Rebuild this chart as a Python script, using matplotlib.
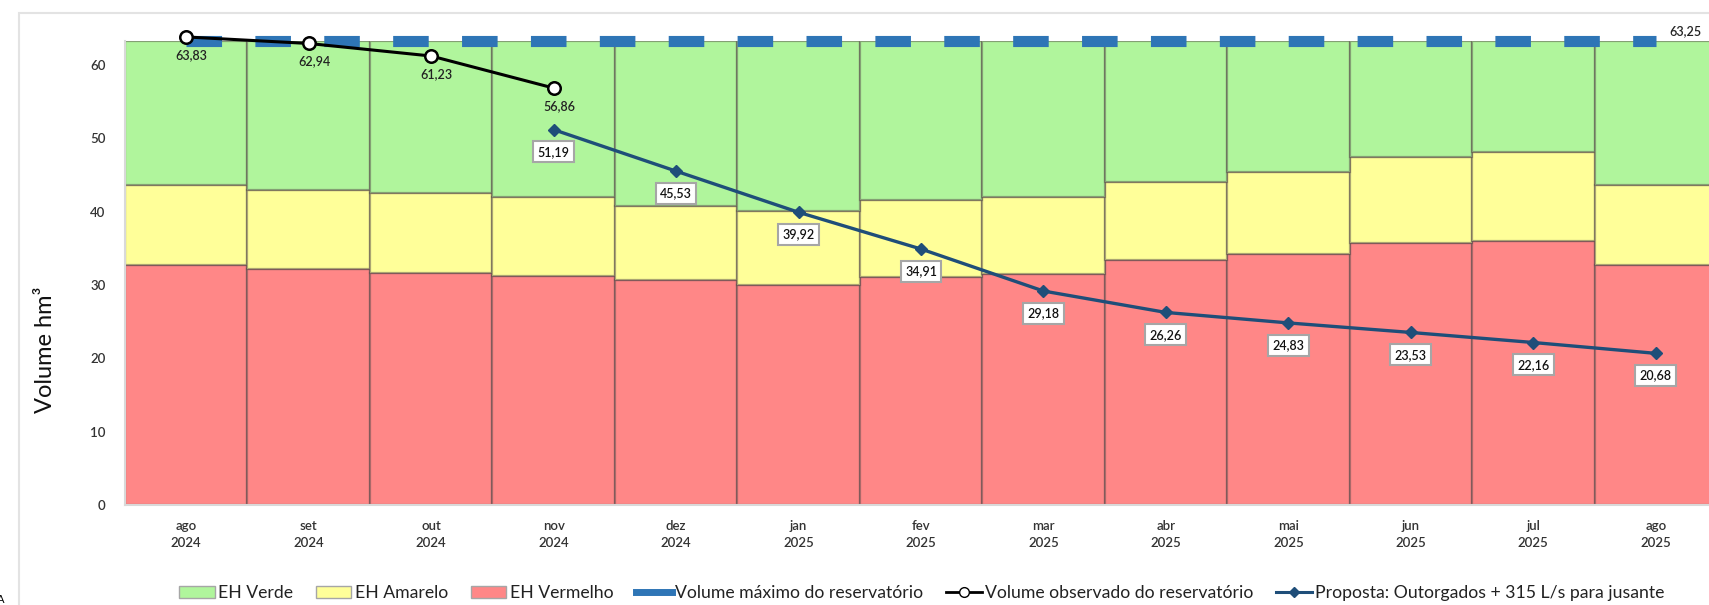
"""
Volume do reservatório: faixas de estado hidrológico e proposta de operação
"""

import numpy as np
import matplotlib.pyplot as plt
from matplotlib.patches import Patch, Rectangle
from matplotlib.lines import Line2D

plt.rcParams['font.family'] = ['Lato', 'DejaVu Sans']

# ── Dados ────────────────────────────────────────────────────────────────────

meses = ['ago', 'set', 'out', 'nov', 'dez', 'jan', 'fev', 'mar', 'abr',
         'mai', 'jun', 'jul', 'ago']
anos = ['2024', '2024', '2024', '2024', '2024', '2025', '2025', '2025',
        '2025', '2025', '2025', '2025', '2025']

vol_max = 63.25

# limite superior de cada faixa (hm³)
limite_vermelho = [32.7, 32.2, 31.7, 31.2, 30.7, 30.0, 31.1, 31.5, 33.4,
                   34.2, 35.7, 36.0, 32.7]
limite_amarelo = [43.6, 42.9, 42.5, 42.0, 40.8, 40.1, 41.6, 42.0, 44.1,
                  45.4, 47.5, 48.2, 43.7]

observado = [63.83, 62.94, 61.23, 56.86]          # ago-nov 2024
proposta = [51.19, 45.53, 39.92, 34.91, 29.18, 26.26, 24.83, 23.53,
            22.16, 20.68]                           # nov 2024 - ago 2025

COR_VERDE = '#B0F59C'
COR_AMARELO = '#FFFF99'
COR_VERMELHO = '#FF8787'
COR_MAX = '#2E75B6'
COR_PROPOSTA = '#1F4E79'
BORDA = (0.35, 0.3, 0.3, 0.5)


def fmt(v):
    return f'{v:.2f}'.replace('.', ',')


# ── Figura ───────────────────────────────────────────────────────────────────

W, H = 1709, 605
fig = plt.figure(figsize=(W / 100, H / 100), dpi=100)
ax = fig.add_axes([125 / W, 100 / H, 1592 / W, 463.8 / H])

x = np.arange(len(meses))
verm = np.array(limite_vermelho)
amar = np.array(limite_amarelo)

ax.bar(x, verm, width=1.0, color=COR_VERMELHO, edgecolor=BORDA, linewidth=1.6)
ax.bar(x, amar - verm, bottom=verm, width=1.0, color=COR_AMARELO,
       edgecolor=BORDA, linewidth=1.6)
ax.bar(x, vol_max - amar, bottom=amar, width=1.0, color=COR_VERDE,
       edgecolor=BORDA, linewidth=1.6)

# Volume máximo
ax.plot(x, [vol_max] * len(x), color=COR_MAX, lw=8,
        linestyle=(0, (3.2, 3.0)), dash_capstyle='butt', zorder=3,
        clip_on=False)
ax.annotate(fmt(vol_max), (x[-1], vol_max), textcoords='offset points',
            xytext=(10, 7), ha='left', va='center', fontsize=9,
            fontweight='semibold', color='#222222', annotation_clip=False)

# Volume observado
xo = x[:len(observado)]
ax.plot(xo, observado, color='black', lw=2.2, marker='o', ms=9,
        mfc='white', mec='black', mew=1.8, zorder=6, clip_on=False)
for xi, v in zip(xo, observado):
    ax.annotate(fmt(v), (xi, v), textcoords='offset points', xytext=(4, -13),
                ha='center', va='center', fontsize=9, fontweight='semibold',
                color='#222222', annotation_clip=False, zorder=7)

# Proposta
xp = x[len(observado) - 1:]
ax.plot(xp, proposta, color=COR_PROPOSTA, lw=2.4, marker='D', ms=6.5,
        zorder=5)
for xi, v in zip(xp, proposta):
    ax.annotate(fmt(v), (xi, v), textcoords='offset points', xytext=(0, -16),
                ha='center', va='center', fontsize=9, fontweight='semibold',
                color='#111111',
                bbox=dict(boxstyle='square,pad=0.35', fc='white',
                          ec='#A6A6A6', lw=1.5), zorder=7)

# Eixos
ax.set_xlim(-0.5, len(x) - 0.5)
ax.set_ylim(0, vol_max)
ax.set_xticks(x, labels=[f'{m}\n{a}' for m, a in zip(meses, anos)],
              fontsize=9.5, fontweight='semibold', color='#333333',
              linespacing=1.5)
ax.set_yticks(range(0, 61, 10))
ax.tick_params(axis='y', length=0, pad=14, labelsize=9.5,
               labelcolor='#333333')
for t in ax.get_yticklabels():
    t.set_fontweight('semibold')
ax.tick_params(axis='x', length=0, pad=11)
for s in ['top', 'right']:
    ax.spines[s].set_visible(False)
for s in ['left', 'bottom']:
    ax.spines[s].set_color('#D9D9D9')
    ax.spines[s].set_linewidth(1.5)

fig.text(45 / W, 1 - 350 / H, 'Volume hm³', rotation=90, ha='center',
         va='center', fontsize=17, color='#111111')

# Legenda
handles = [
    Patch(facecolor=COR_VERDE, edgecolor='#A6A6A6'),
    Patch(facecolor=COR_AMARELO, edgecolor='#A6A6A6'),
    Patch(facecolor=COR_VERMELHO, edgecolor='#A6A6A6'),
    Line2D([], [], color=COR_MAX, lw=5),
    Line2D([], [], color='black', lw=2, marker='o', ms=7, mfc='white',
           mec='black'),
    Line2D([], [], color=COR_PROPOSTA, lw=2.2, marker='D', ms=5),
]
labels = ['EH Verde', 'EH Amarelo', 'EH Vermelho',
          'Volume máximo do reservatório',
          'Volume observado do reservatório',
          'Proposta: Outorgados + 315 L/s para jusante']
fig.legend(handles, labels, loc='center', bbox_to_anchor=(922 / W, 12 / H),
           ncol=6, frameon=False, fontsize=12.7, handlelength=2.0,
           handletextpad=0.2, columnspacing=1.3, labelcolor='#222222')

# Borda do gráfico
fig.patches.append(Rectangle((19 / W, -0.05), 1.2, 1.05 - 13 / H,
                             transform=fig.transFigure, fill=False,
                             edgecolor='#E3E3E3', lw=1.5))
fig.text(-0.002, 0.0, 'A', fontsize=8, va='bottom', ha='left')

fig.savefig('out.png', dpi=100)
